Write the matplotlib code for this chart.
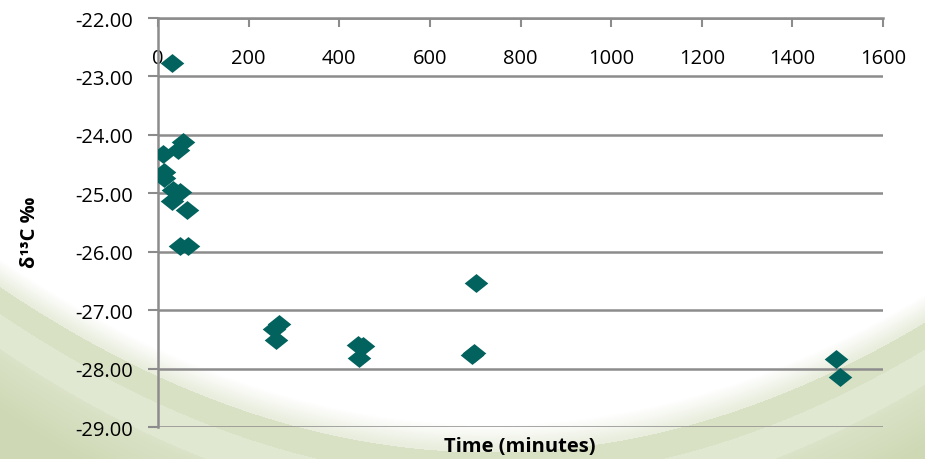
import numpy as np
import matplotlib
matplotlib.use("Agg")
import matplotlib.pyplot as plt

plt.rcParams['font.family'] = ['Open Sans', 'DejaVu Sans']

# Data
time_min = [30, 12, 56, 45, 13, 14, 34, 49, 30, 65, 49, 67,
            266, 255, 260, 442, 453, 444, 702, 692, 697, 1496, 1505]
delta13c = [-22.77, -24.33, -24.12, -24.26, -24.63, -24.74, -24.94, -24.98, -25.14, -25.29, -25.90, -25.90,
            -27.23, -27.33, -27.51, -27.60, -27.62, -27.82, -26.53, -27.76, -27.74, -27.83, -28.14]
x_ticks = [0, 200, 400, 600, 800, 1000, 1200, 1400, 1600]
y_ticks = [-22, -23, -24, -25, -26, -27, -28, -29]

W, H = 925, 460
fig = plt.figure(figsize=(W / 100, H / 100), dpi=100)

# Background swoosh
bg = fig.add_axes([0, 0, 1, 1], zorder=0)
yy, xx = np.mgrid[0:H, 0:W].astype(float)
yb = 273 + 152 * (1 - ((xx - 490) / 470) ** 2)
s = yy - yb
alpha = np.zeros_like(s)
alpha = np.where(s > 0, np.clip(s / 25.0, 0, 1) * 0.45, alpha)
alpha = np.where((s > 28) & (s < 55), 0.78, alpha)
alpha = np.where((s >= 55) & (s < 90), 0.60, alpha)
alpha = np.where(s >= 90, 0.75 + np.clip((s - 90) / 60.0, 0, 1) * 0.25, alpha)
yb2 = 300 + 150 * (1 - ((xx - 540) / 520) ** 2)
s2 = yy - yb2
alpha = np.maximum(alpha, np.where(s2 > 0, np.clip(s2 / 40.0, 0, 1) * 0.5, 0))
green = np.array([0.81, 0.85, 0.71])
img = 1 - alpha[..., None] * (1 - green[None, None, :])
bg.imshow(img, aspect='auto', extent=[0, 1, 0, 1], interpolation='bilinear')
bg.set_axis_off()

ax = fig.add_axes([158 / W, 1 - 428 / H, (883 - 158) / W, (428 - 19) / H], zorder=1)
ax.set_facecolor('none')
ax.set_xlim(0, 1600)
ax.set_ylim(-29, -22)

gray = '#8c8c8c'
for v in y_ticks:
    ax.axhline(v, color=gray, lw=1.8, zorder=1)

diamond = [(-1, 0), (0, 0.8), (1, 0), (0, -0.8), (-1, 0)]
ax.plot(time_min, delta13c, linestyle='none', marker=diamond, markersize=17,
        color='#02625E', markeredgewidth=0, zorder=3)

for sp in ['right', 'bottom']:
    ax.spines[sp].set_visible(False)
for sp in ['left', 'top']:
    ax.spines[sp].set_color(gray)
    ax.spines[sp].set_linewidth(1.8)

ax.set_yticks(y_ticks)
ax.set_yticklabels([f"{v:.2f}" for v in y_ticks])
ax.tick_params(axis='y', direction='out', length=7, width=1.5, color=gray,
               pad=11, labelsize=14.5)

ax.set_xticks(x_ticks)
ax.set_xticklabels([str(v) for v in x_ticks])
ax.xaxis.set_ticks_position('top')
ax.tick_params(axis='x', direction='in', length=6.5, width=1.5, color=gray,
               top=True, bottom=False, labeltop=True, labelbottom=False,
               pad=-36, labelsize=14.5)

fig.text(520 / W, 1 - 447 / H, 'Time (minutes)', ha='center', va='center',
         fontsize=14.5, fontweight='bold')
fig.text(30 / W, 1 - 232 / H, 'δ¹³C ‰', ha='center', va='center', rotation=90,
         fontsize=14.5, fontweight='bold')

fig.savefig('out.png', dpi=100)
